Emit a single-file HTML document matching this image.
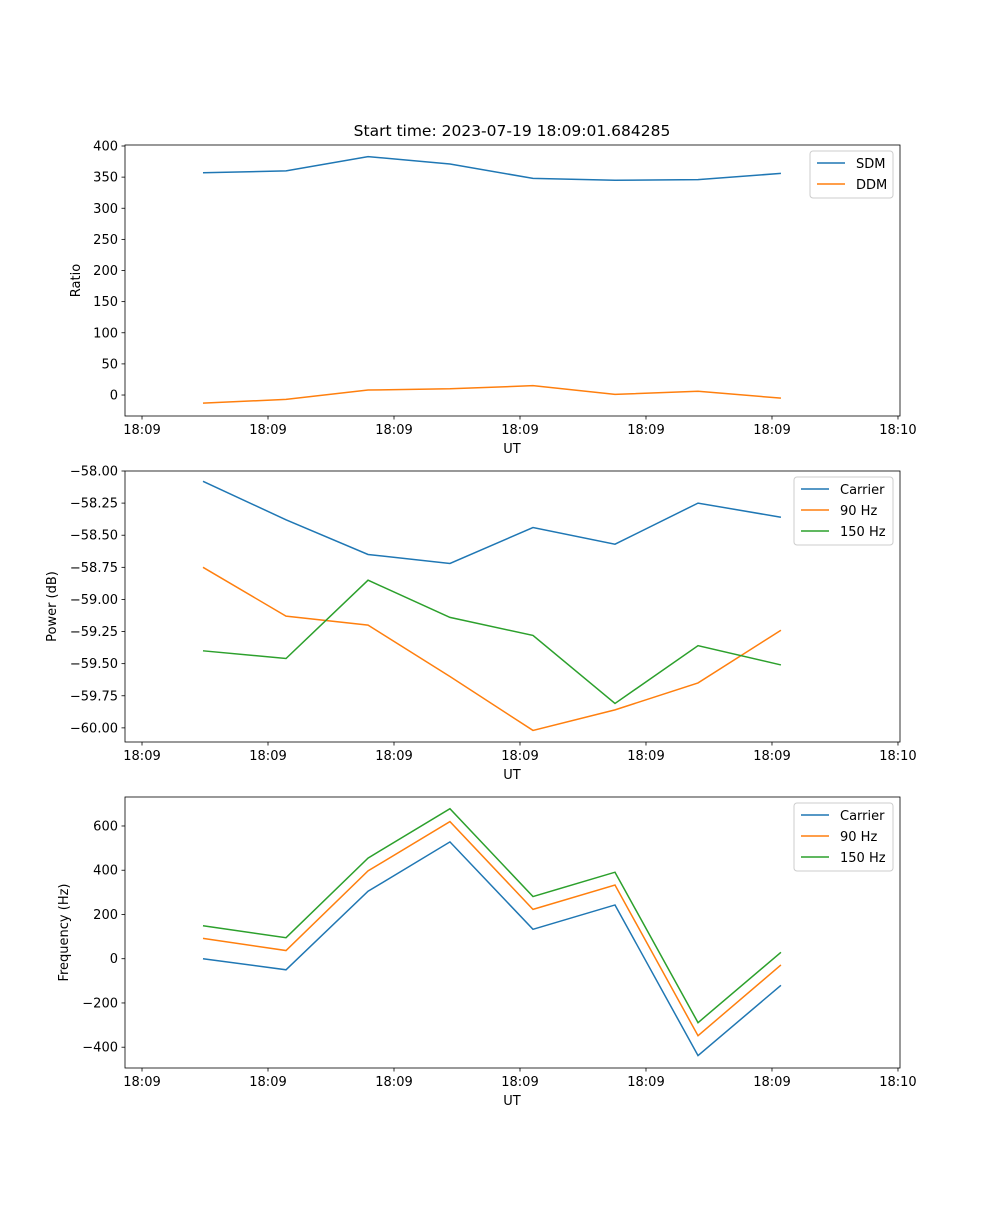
<!DOCTYPE html>
<html><head><meta charset="utf-8"><style>
body{margin:0;background:#fff}
svg text{font-family:"DejaVu Sans","Liberation Sans",sans-serif;font-size:13px;fill:#000}
</style></head><body>
<svg id="fig" width="1000" height="1200" xmlns="http://www.w3.org/2000/svg">
<rect width="1000" height="1200" fill="#fff"/>
<text x="512" y="136" text-anchor="middle" style="font-size:15.5px">Start time: 2023-07-19 18:09:01.684285</text>
</svg>
<script>
const times=[4.84,11.43,17.94,24.44,31.03,37.54,44.13,50.71];
const xTicks=[0,10,20,30,40,50,60];
const xTickLabels=["18:09","18:09","18:09","18:09","18:09","18:09","18:10"];
const sdm=[357,360,383,371,348,345,346,356];
const ddm=[-13,-7,8,10,15,1,6,-5];
const powCarrier=[-58.08,-58.38,-58.65,-58.72,-58.44,-58.57,-58.25,-58.36];
const pow90=[-58.75,-59.13,-59.20,-59.60,-60.02,-59.86,-59.65,-59.24];
const pow150=[-59.40,-59.46,-58.85,-59.14,-59.28,-59.81,-59.36,-59.51];
const freqCarrier=[0,-50,305,528,133,243,-438,-120];
const freq90=[92,37,397,620,223,333,-348,-28];
const freq150=[149,95,455,678,281,391,-289,29];
const ratioTicks=[0,50,100,150,200,250,300,350,400];
const powTicks=[-58,-58.25,-58.5,-58.75,-59,-59.25,-59.5,-59.75,-60];
const freqTicks=[-400,-200,0,200,400,600];
const C=["#1f77b4","#ff7f0e","#2ca02c"];
const NS="http://www.w3.org/2000/svg";
const svg=document.getElementById('fig');
function mk(tag,at,parent){const e=document.createElementNS(NS,tag);for(const k in at)e.setAttribute(k,at[k]);(parent||svg).appendChild(e);return e;}
const L=125,R=900,T0=-1.35,T1=60.16;
function xs(t){return L+(t-T0)/(T1-T0)*(R-L);}
function panel(top,bot,y0,y1,ticks,fmt,ylabel,series,names,legW,name){
  const g=mk('g',{});
  
  
  const ys=v=>bot-(v-y0)/(y1-y0)*(bot-top);
  series.forEach((s,i)=>{
    const p=mk('polyline',{points:s.map((v,j)=>xs(times[j])+','+ys(v)).join(' '),fill:'none',stroke:C[i],'stroke-width':1.5},g);
    
    
  });
  mk('rect',{x:L,y:top,width:R-L,height:bot-top,fill:'none',stroke:'#000','stroke-width':0.8},g);
  xTicks.forEach((t,i)=>{const x=xs(t);mk('line',{x1:x,x2:x,y1:bot,y2:bot+3.5,stroke:'#000','stroke-width':0.8},g);
    const tx=mk('text',{x:x,y:bot+18,'text-anchor':'middle'},g);tx.textContent=xTickLabels[i];
    
    });
  ticks.forEach(v=>{const y=ys(v);mk('line',{x1:L-3.5,x2:L,y1:y,y2:y,stroke:'#000','stroke-width':0.8},g);
    const tx=mk('text',{x:L-7,y:y+4.5,'text-anchor':'end'},g);tx.textContent=fmt(v);
    
    });
  const xl=mk('text',{x:512,y:bot+37,'text-anchor':'middle'},g);xl.textContent='UT';
  
  
  const lx=ylabel[1];
  const yl=mk('text',{x:lx,y:(top+bot)/2,'text-anchor':'middle',transform:`rotate(-90 ${lx} ${(top+bot)/2})`},g);yl.textContent=ylabel[0];
  
  
  const lg=mk('g',{},g);
  
  
  const lx0=R-7-legW;
  mk('rect',{x:lx0,y:top+6,width:legW,height:5+21*names.length,rx:3,fill:'#fff',stroke:'#ccc','stroke-width':1},lg);
  names.forEach((n,i)=>{const y=top+18+21*i;
    mk('line',{x1:lx0+7,x2:lx0+35,y1:y,y2:y,stroke:C[i],'stroke-width':1.5},lg);
    const t=mk('text',{x:lx0+46,y:y+5},lg);t.textContent=n;
    
    });
}
const minus=s=>s.replace('-','\u2212');
panel(145,416,-33.7,401.6,ratioTicks,v=>minus(String(v)),['Ratio',80],[sdm,ddm],['SDM','DDM'],83,'ratio-panel');
panel(471,742,-60.11,-58.0,powTicks,v=>minus(v.toFixed(2)),['Power (dB)',56],[powCarrier,pow90,pow150],['Carrier','90 Hz','150 Hz'],99,'power-panel');
panel(797,1068,-494,731,freqTicks,v=>minus(String(v)),['Frequency (Hz)',68],[freqCarrier,freq90,freq150],['Carrier','90 Hz','150 Hz'],99,'frequency-panel');
</script>
</body></html>
